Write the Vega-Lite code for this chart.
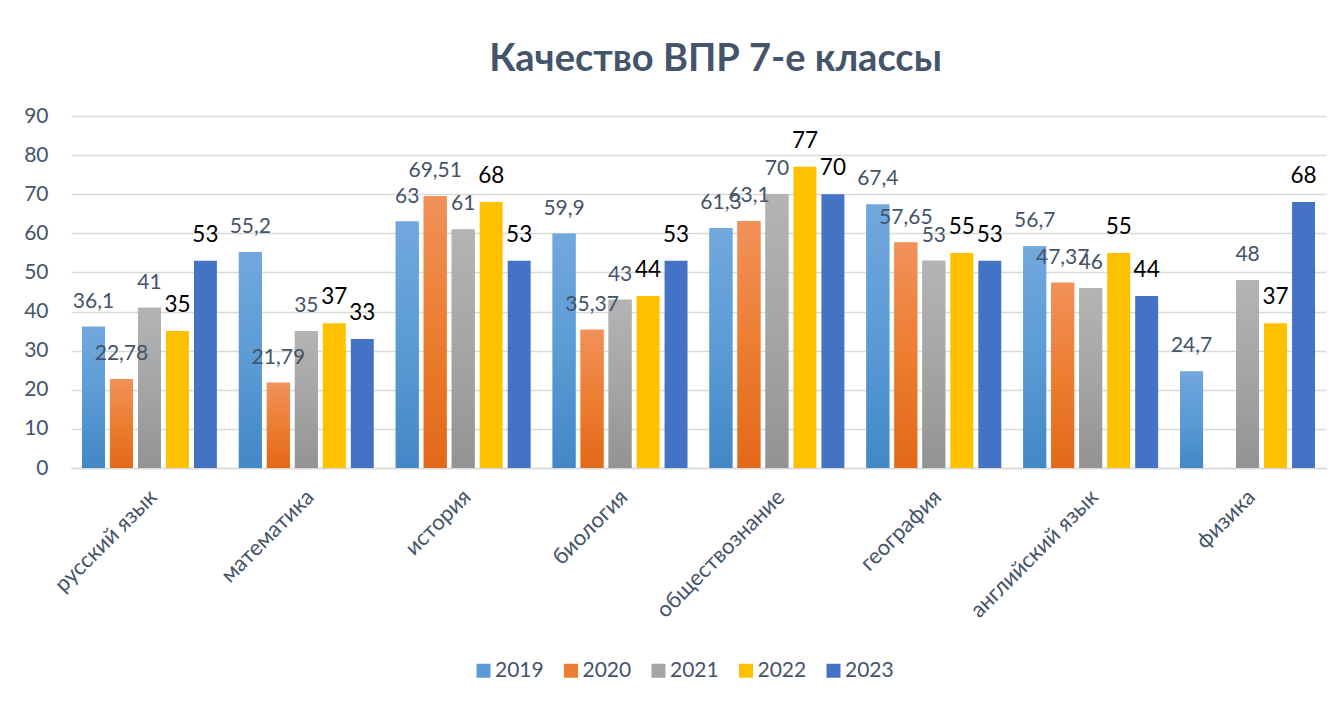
{
  "$schema": "https://vega.github.io/schema/vega-lite/v6.json",
  "width": 1255,
  "height": 352,
  "autosize": {"type": "none"},
  "padding": {"left": 71, "top": 116, "right": 17, "bottom": 234},
  "background": "white",
  "title": {
    "text": "Качество ВПР 7-е классы",
    "font": "Lato",
    "fontSize": 38,
    "fontWeight": "bold",
    "color": "#44546A",
    "offset": 26,
    "dx": 17
  },
  "data": {
    "values": [
      {"subject": "русский язык", "year": "2019", "value": 36.1},
      {"subject": "русский язык", "year": "2020", "value": 22.78},
      {"subject": "русский язык", "year": "2021", "value": 41},
      {"subject": "русский язык", "year": "2022", "value": 35},
      {"subject": "русский язык", "year": "2023", "value": 53},
      {"subject": "математика", "year": "2019", "value": 55.2},
      {"subject": "математика", "year": "2020", "value": 21.79},
      {"subject": "математика", "year": "2021", "value": 35},
      {"subject": "математика", "year": "2022", "value": 37},
      {"subject": "математика", "year": "2023", "value": 33},
      {"subject": "история", "year": "2019", "value": 63},
      {"subject": "история", "year": "2020", "value": 69.51},
      {"subject": "история", "year": "2021", "value": 61},
      {"subject": "история", "year": "2022", "value": 68},
      {"subject": "история", "year": "2023", "value": 53},
      {"subject": "биология", "year": "2019", "value": 59.9},
      {"subject": "биология", "year": "2020", "value": 35.37},
      {"subject": "биология", "year": "2021", "value": 43},
      {"subject": "биология", "year": "2022", "value": 44},
      {"subject": "биология", "year": "2023", "value": 53},
      {"subject": "обществознание", "year": "2019", "value": 61.3},
      {"subject": "обществознание", "year": "2020", "value": 63.1},
      {"subject": "обществознание", "year": "2021", "value": 70},
      {"subject": "обществознание", "year": "2022", "value": 77},
      {"subject": "обществознание", "year": "2023", "value": 70},
      {"subject": "география", "year": "2019", "value": 67.4},
      {"subject": "география", "year": "2020", "value": 57.65},
      {"subject": "география", "year": "2021", "value": 53},
      {"subject": "география", "year": "2022", "value": 55},
      {"subject": "география", "year": "2023", "value": 53},
      {"subject": "английский язык", "year": "2019", "value": 56.7},
      {"subject": "английский язык", "year": "2020", "value": 47.37},
      {"subject": "английский язык", "year": "2021", "value": 46},
      {"subject": "английский язык", "year": "2022", "value": 55},
      {"subject": "английский язык", "year": "2023", "value": 44},
      {"subject": "физика", "year": "2019", "value": 24.7},
      {"subject": "физика", "year": "2021", "value": 48},
      {"subject": "физика", "year": "2022", "value": 37},
      {"subject": "физика", "year": "2023", "value": 68}
    ]
  },
  "encoding": {
    "x": {
      "field": "subject",
      "type": "nominal",
      "sort": ["русский язык", "математика", "история", "биология", "обществознание", "география", "английский язык", "физика"],
      "scale": {"paddingInner": 0.14, "paddingOuter": 0.07},
      "axis": {
        "title": null,
        "labelAngle": -45,
        "labelAlign": "right",
        "labelBaseline": "middle",
        "labelFont": "Lato",
        "labelFontSize": 22,
        "labelColor": "#44546A",
        "labelPadding": 25,
        "labelOffset": 4,
        "labelLimit": 0,
        "ticks": false,
        "domainColor": "#D9D9D9",
        "domainWidth": 1.5,
        "grid": false
      }
    },
    "xOffset": {
      "field": "year",
      "type": "nominal",
      "scale": {"domain": ["2019", "2020", "2021", "2022", "2023"], "paddingInner": 0.18, "paddingOuter": 0}
    },
    "y": {
      "field": "value",
      "type": "quantitative",
      "scale": {"domain": [0, 90], "nice": false},
      "axis": {
        "title": null,
        "values": [0, 10, 20, 30, 40, 50, 60, 70, 80, 90],
        "labelFont": "Lato",
        "labelFontSize": 21,
        "labelColor": "#44546A",
        "labelPadding": 23,
        "ticks": false,
        "domain": false,
        "gridColor": "#D9D9D9",
        "gridWidth": 1.5
      }
    }
  },
  "layer": [
    {
      "mark": {"type": "bar"},
      "encoding": {
        "color": {
          "field": "year",
          "type": "nominal",
          "scale": {
            "domain": ["2019", "2020", "2021", "2022", "2023"],
            "range": ["#5B9BD5", "#ED7D31", "#A5A5A5", "#FFC000", "#4472C4"]
          },
          "legend": {
            "title": null,
            "orient": "none",
            "legendX": 402,
            "legendY": 544,
            "padding": 0,
            "direction": "horizontal",
            "symbolType": "square",
            "symbolSize": 196,
            "symbolStrokeWidth": 0,
            "labelFont": "Lato",
            "labelFontSize": 21,
            "labelColor": "#44546A",
            "labelOffset": 1,
            "columnPadding": 16.5
          }
        }
      }
    },
    {
      "transform": [{"filter": "datum.year == '2019' || datum.year == '2020' || datum.year == '2021'"}],
      "mark": {"type": "bar"},
      "encoding": {
        "fill": {
          "condition": [
            {"test": "datum.year == '2019'", "value": {"gradient": "linear", "x1": 0, "y1": 0, "x2": 0, "y2": 1, "stops": [{"offset": 0, "color": "#71A8DE"}, {"offset": 0.5, "color": "#5B9BD5"}, {"offset": 1, "color": "#4287C7"}]}},
            {"test": "datum.year == '2020'", "value": {"gradient": "linear", "x1": 0, "y1": 0, "x2": 0, "y2": 1, "stops": [{"offset": 0, "color": "#F1915A"}, {"offset": 0.5, "color": "#ED7D31"}, {"offset": 1, "color": "#E26918"}]}}
          ],
          "value": {"gradient": "linear", "x1": 0, "y1": 0, "x2": 0, "y2": 1, "stops": [{"offset": 0, "color": "#B4B4B4"}, {"offset": 0.5, "color": "#A5A5A5"}, {"offset": 1, "color": "#939393"}]}
        }
      }
    },
    {
      "transform": [{"filter": "datum.year == '2019' || datum.year == '2020' || datum.year == '2021'"}],
      "mark": {"type": "text", "font": "Lato", "fontSize": 21, "color": "#44546A", "baseline": "middle", "dy": -25},
      "encoding": {"text": {"field": "value", "type": "quantitative"}}
    },
    {
      "transform": [{"filter": "datum.year == '2022' || datum.year == '2023'"}],
      "mark": {"type": "text", "font": "Lato", "fontSize": 22.5, "color": "#000000", "baseline": "middle", "dy": -26},
      "encoding": {"text": {"field": "value", "type": "quantitative"}}
    }
  ],
  "config": {
    "view": {"stroke": null},
    "locale": {
      "number": {"decimal": ",", "thousands": " ", "grouping": [3], "currency": ["", " ₽"]}
    }
  }
}
